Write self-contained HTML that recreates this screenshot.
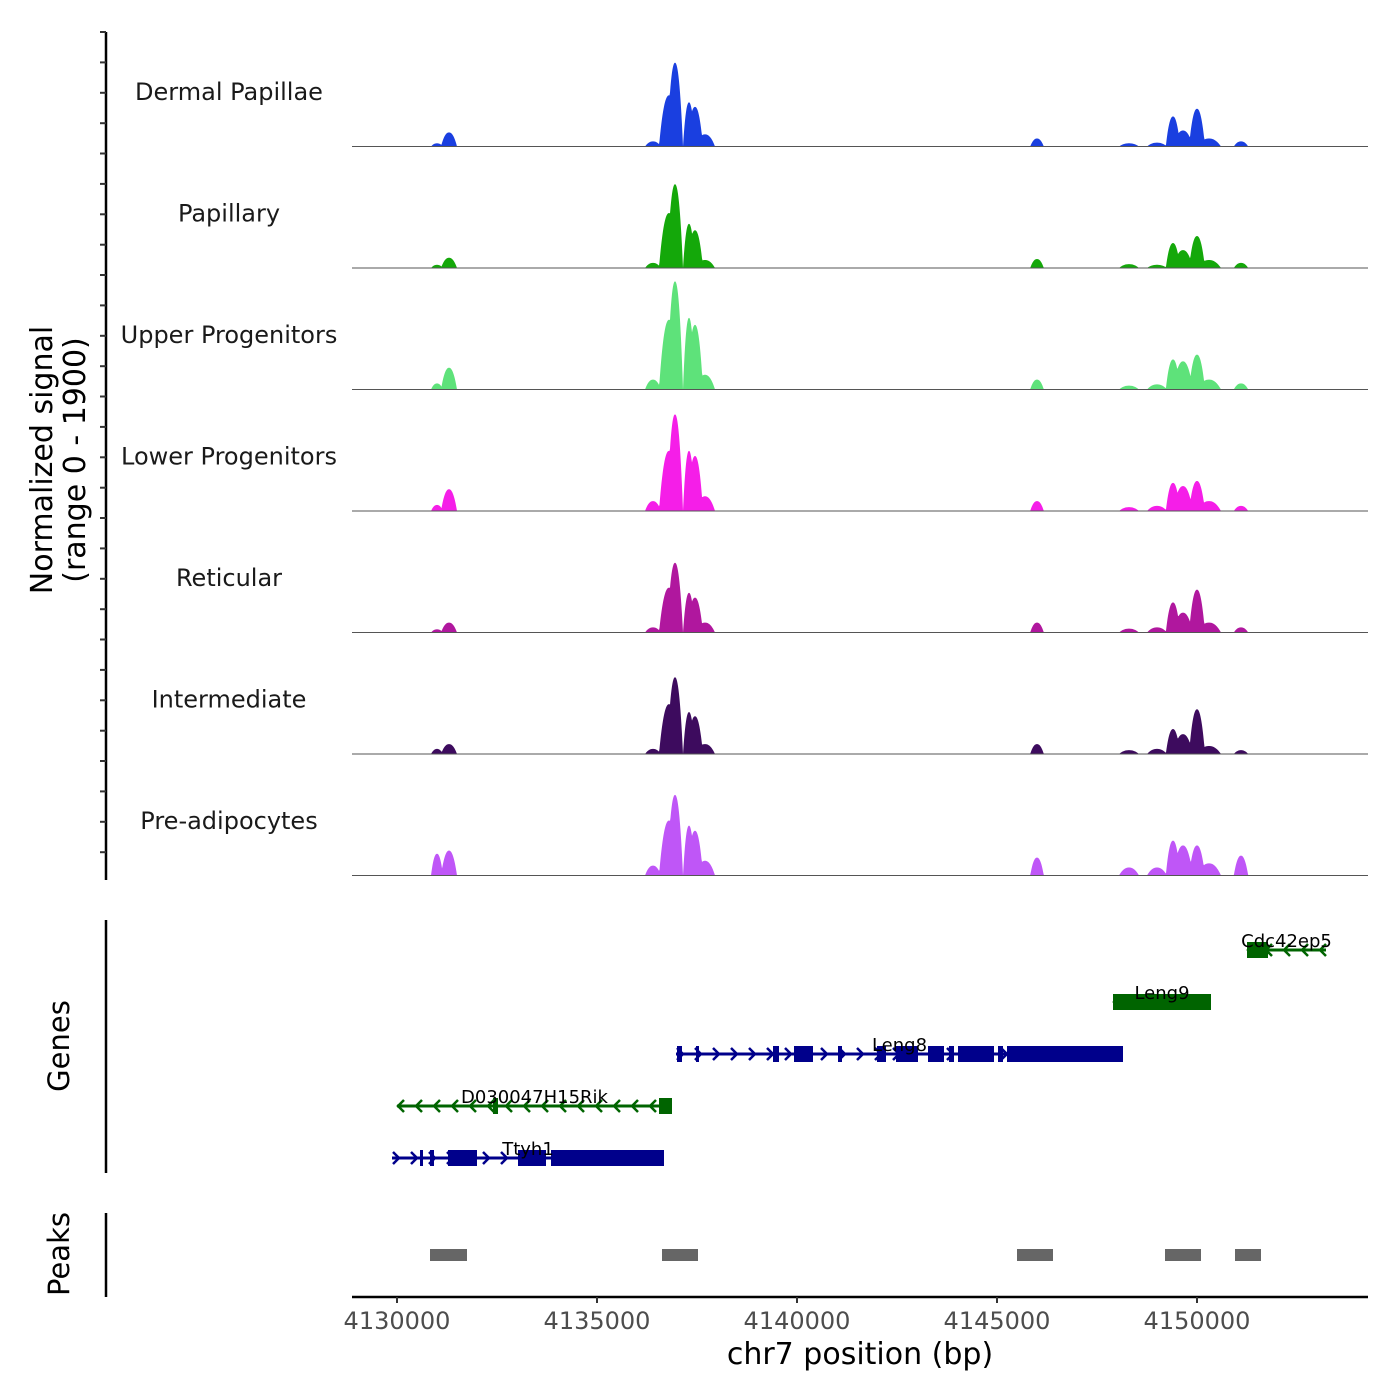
<!DOCTYPE html>
<html><head><meta charset="utf-8"><style>
html,body{margin:0;padding:0;background:#fff}
svg{display:block;font-family:"DejaVu Sans","Liberation Sans",sans-serif}
</style></head><body>
<svg id="chart" width="1400" height="1400" viewBox="0 0 1400 1400"></svg>
<script>
const trackNames=["Dermal Papillae","Papillary","Upper Progenitors","Lower Progenitors","Reticular","Intermediate","Pre-adipocytes"];
const trackColors=["#1a3fe0","#14a80a","#5ee27a","#f51ee8","#b0179e","#3d0b5e","#bf56f7"];
const peakCenters=[4131000,4131300,4136400,4136800,4136950,4137300,4137450,4137700,4146000,4149000,4149400,4149650,4150000,4150300,4151100,4148300];
const peakHalfWidths=[150,200,200,250,200,150,200,250,170,250,180,250,200,300,180,250];
const sigDermal=[50,220,80,800,1310,690,620,190,125,60,470,250,590,125,80,50];
const sigPapillary=[50,160,80,860,1310,690,590,125,140,50,390,280,500,125,80,60];
const sigUpper=[95,340,155,1090,1690,1120,1010,230,155,80,470,440,545,155,95,60];
const sigLower=[95,340,155,940,1510,940,860,230,155,80,440,390,470,155,80,60];
const sigReticular=[50,155,80,700,1090,620,545,155,155,80,470,310,670,155,80,60];
const sigIntermediate=[80,155,80,780,1200,655,590,155,155,80,390,310,700,125,60,60];
const sigPreadipo=[340,390,155,860,1260,780,700,230,280,125,545,470,470,190,310,125];
const trackSignals=[sigDermal,sigPapillary,sigUpper,sigLower,sigReticular,sigIntermediate,sigPreadipo];
const xTicks=[4130000,4135000,4140000,4145000,4150000];
const geneNames=["Cdc42ep5","Leng9","Leng8","D030047H15Rik","Ttyh1"];
const geneStrands=["-","-","+","-","+"];
const geneStarts=[4151250,4147900,4136975,4130000,4129875];
const geneEnds=[4153225,4150350,4148150,4136875,4136675];
const geneExons=[
 [[4151250,4151775]],
 [[4147900,4150350]],
 [[4137000,4137125],[4137475,4137550],[4139400,4139550],[4139925,4140400],[4141025,4141125],[4142000,4142225],[4142475,4143025],[4143275,4143675],[4143800,4143925],[4144025,4144925],[4145025,4145150],[4145250,4148150]],
 [[4132400,4132525],[4136550,4136875]],
 [[4130575,4130650],[4130825,4130925],[4131275,4132000],[4133025,4133725],[4133850,4136675]]
];
const peakRegionStarts=[4130825,4136625,4145500,4149200,4150950];
const peakRegionEnds=[4131750,4137525,4146400,4150100,4151600];

const NS="http://www.w3.org/2000/svg";
const svg=document.getElementById('chart');
function mk(tag,attrs,parent,text){const e=document.createElementNS(NS,tag);for(const k in attrs)e.setAttribute(k,attrs[k]);if(text!==undefined)e.textContent=text;(parent||svg).appendChild(e);return e;}
const X0=352,X1=1368,BP0=4128875,BP1=4154275;
function xs(bp){return X0+(bp-BP0)/(BP1-BP0)*(X1-X0);}
const trackTop=25,trackH=121.5,YMAX=1900;
function ys(v,i){return trackTop+trackH*(i+1)-v/YMAX*trackH;}

trackNames.forEach((nm,i)=>{
  const g=mk('g',{});
  
  
  const vals=trackSignals[i];
  let d='M'+X0+','+ys(0,i);
  for(let px=X0;px<=X1;px+=0.5){
    const bp=BP0+(px-X0)/(X1-X0)*(BP1-BP0);
    let v=0;
    for(let k=0;k<peakCenters.length;k++){
      const t=Math.abs(bp-peakCenters[k])/peakHalfWidths[k];
      if(t<1){const s=vals[k]*(1-Math.pow(t,2.2));if(s>v)v=s;}
    }
    d+=' L'+px+','+ys(v,i).toFixed(2);
  }
  d+=' L'+X1+','+ys(0,i)+' Z';
  const p=mk('path',{d:d,fill:trackColors[i]},g);
  
  
  const bl=mk('line',{x1:X0,x2:X1,y1:ys(0,i),y2:ys(0,i),stroke:'#555','stroke-width':1},g);
  
  
  const lb=mk('text',{x:229,y:trackTop+trackH*i+75,'text-anchor':'middle','font-size':24,fill:'#1a1a1a'},g,nm);
  
  
});
const ax=mk('line',{x1:106,x2:106,y1:32,y2:880,stroke:'#000','stroke-width':2.5});

for(let i=0;i<7;i++){for(let j=0;j<4;j++){const y=trackTop+trackH*i+7+j*30.4;const t=mk('line',{x1:100,x2:106,y1:y,y2:y,stroke:'#333','stroke-width':2});
}}
const yt=mk('text',{transform:'translate(52,460) rotate(-90)','text-anchor':'middle','font-size':30,fill:'#000'});

mk('tspan',{x:0,dy:0},yt,'Normalized signal');mk('tspan',{x:0,dy:33},yt,'(range 0 - 1900)');

const ga=mk('line',{x1:106,x2:106,y1:920,y2:1173,stroke:'#000','stroke-width':2.5});

const gt=mk('text',{transform:'translate(69,1046) rotate(-90)','text-anchor':'middle','font-size':29});
gt.textContent='Genes';
geneNames.forEach((nm,r)=>{
  const y=950+r*52;
  const col=geneStrands[r]=='+'?'#00008b':'#006400';
  const g=mk('g',{});
  
  
  const a=xs(geneStarts[r]),b=xs(geneEnds[r]);
  mk('line',{x1:a,x2:b,y1:y,y2:y,stroke:col,'stroke-width':3},g);
  for(let x=a+4;x<b-2;x+=18){
    const dd=geneStrands[r]=='+'?`M${x-3},${y-6} L${x+3},${y} L${x-3},${y+6}`:`M${x+3},${y-6} L${x-3},${y} L${x+3},${y+6}`;
    mk('path',{d:dd,stroke:col,'stroke-width':2.5,fill:'none'},g);
  }
  geneExons[r].forEach(e=>{const ex=mk('rect',{x:xs(e[0]),y:y-8,width:Math.max(3,xs(e[1])-xs(e[0])),height:16,fill:col},g);
    });
  const lb=mk('text',{x:(a+b)/2,y:y-3,'text-anchor':'middle','font-size':18,fill:'#000'},g,nm);
  
});
const pa=mk('line',{x1:106,x2:106,y1:1213,y2:1297,stroke:'#000','stroke-width':2.5});

const pt=mk('text',{transform:'translate(69,1254) rotate(-90)','text-anchor':'middle','font-size':29});
pt.textContent='Peaks';
peakRegionStarts.forEach((s,i)=>{const r=mk('rect',{x:xs(s),y:1249,width:xs(peakRegionEnds[i])-xs(s),height:12,fill:'#666'});
});
const xa=mk('line',{x1:X0,x2:X1,y1:1297,y2:1297,stroke:'#000','stroke-width':2.5});

xTicks.forEach(t=>{const x=xs(t);const tk=mk('line',{x1:x,x2:x,y1:1297,y2:1303,stroke:'#333','stroke-width':2});

const tl=mk('text',{x:x,y:1329,'text-anchor':'middle','font-size':24,fill:'#4d4d4d'},svg,String(t));
});
const xt=mk('text',{x:860,y:1364,'text-anchor':'middle','font-size':30,fill:'#000'},svg,'chr7 position (bp)');

</script>
</body></html>
